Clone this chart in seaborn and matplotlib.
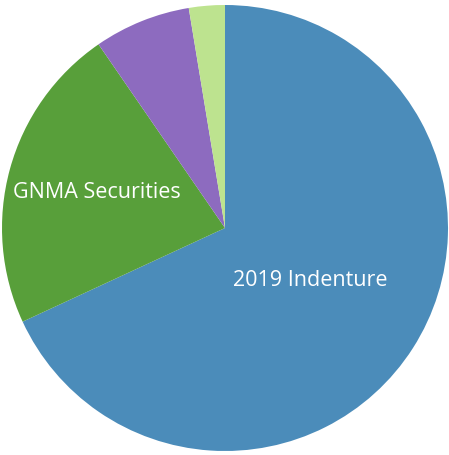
import matplotlib
matplotlib.use("Agg")
import matplotlib.pyplot as plt
import seaborn as sns

categories = ["2019 Indenture", "GNMA Securities", "Other A", "Other B"]
values = [68.1, 22.3, 7.0, 2.6]
colors = ["#4b8cba", "#589f3a", "#8d6bbf", "#bde38f"]
shown_labels = ["2019 Indenture", "GNMA Securities", "", ""]

sns.set_theme(style="white")
plt.rcParams["font.family"] = ["Open Sans", "DejaVu Sans"]

fig = plt.figure(figsize=(4.49, 4.55), dpi=100)
ax = fig.add_axes([2 / 449, 4 / 455, 446 / 449, 446 / 455])
wedges, _ = ax.pie(values, colors=sns.color_palette(colors), startangle=90,
                   counterclock=False, radius=1,
                   wedgeprops=dict(linewidth=0, antialiased=True))
ax.set_xlim(-1, 1)
ax.set_ylim(-1, 1)
ax.set_aspect("equal")
ax.axis("off")

label_pos = [(0.381, -0.237), (-0.574, 0.157)]
for lab, (x, y) in zip(shown_labels[:2], label_pos):
    ax.text(x, y, lab, ha="center", va="center", color="white", fontsize=15.5)

fig.savefig("out.png", dpi=100, facecolor="white")
